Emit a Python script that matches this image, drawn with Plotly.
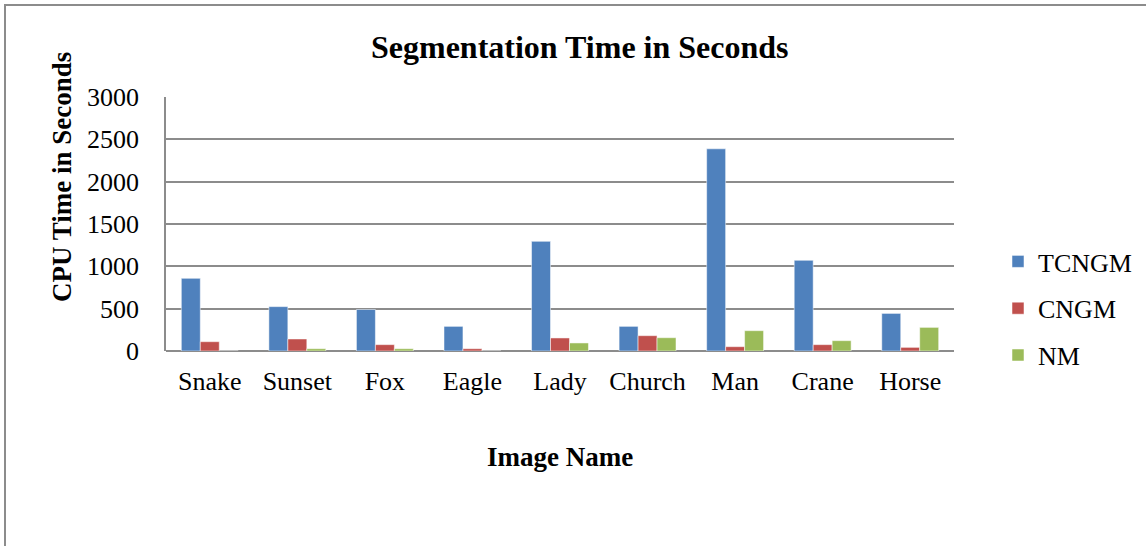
import plotly.graph_objects as go

# Segmentation time per image for each method (seconds)
images = ["Snake", "Sunset", "Fox", "Eagle", "Lady", "Church", "Man", "Crane", "Horse"]
tcngm = [858, 524, 490, 291, 1295, 291, 2388, 1071, 444]
cngm = [110, 142, 75, 27, 154, 181, 51, 75, 43]
nm = [0, 27, 27, 0, 95, 157, 240, 122, 279]

series = [("TCNGM", tcngm, "#4F81BD"), ("CNGM", cngm, "#C0504D"), ("NM", nm, "#9BBB59")]

FONT = "Liberation Serif, Times New Roman, serif"
W, H = 1146, 546
L, R, T, B = 166, 192, 97, 195
PW, PH = W - L - R, H - T - B


def px_x(x):
    return (x - L) / PW


def px_y(y):
    return (H - B - y) / PH


fig = go.Figure()
for name, vals, color in series:
    fig.add_trace(go.Bar(
        x=images, y=vals, name=name, legendgroup=name,
        marker=dict(color=color, line=dict(color="rgba(255,255,255,0.5)", width=1)),
    ))

fig.update_layout(
    width=W, height=H,
    margin=dict(l=L, r=R, t=T, b=B),
    paper_bgcolor="white", plot_bgcolor="white",
    barmode="group", bargap=0.35, bargroupgap=0,
    font=dict(family=FONT, size=26, color="black"),
    showlegend=True,
    legend=dict(x=998 / W, xref="container", xanchor="left",
                y=(H - 238) / H, yref="container", yanchor="top",
                traceorder="grouped", tracegroupgap=10,
                font=dict(family=FONT, size=26, color="black"),
                bgcolor="rgba(0,0,0,0)", itemclick=False),
    xaxis=dict(showgrid=False, showline=False, ticks="", tickfont=dict(size=26),
               ticklabelstandoff=12),
    yaxis=dict(range=[0, 3000], dtick=500, showgrid=True, gridcolor="#8c8c8c",
               gridwidth=1.5, showline=True, linecolor="#8c8c8c", linewidth=1.5,
               zeroline=True, zerolinecolor="#8c8c8c", zerolinewidth=1.5,
               ticks="", tickfont=dict(size=26), ticklabelstandoff=20),
    annotations=[
        dict(text="<b>Segmentation Time in Seconds</b>", x=px_x(580), y=px_y(47),
             xref="paper", yref="paper", xanchor="center", yanchor="middle",
             showarrow=False, font=dict(size=32, family=FONT)),
        dict(text="<b>CPU Time in Seconds</b>", x=px_x(62), y=px_y(177),
             xref="paper", yref="paper", xanchor="center", yanchor="middle",
             showarrow=False, textangle=-90, font=dict(size=27, family=FONT)),
        dict(text="<b>Image Name</b>", x=px_x(560), y=px_y(457),
             xref="paper", yref="paper", xanchor="center", yanchor="middle",
             showarrow=False, font=dict(size=27, family=FONT)),
    ],
)

# Outer chart frame
fig.add_shape(type="rect", xref="paper", yref="paper",
              x0=px_x(5), x1=px_x(1160), y0=px_y(560), y1=px_y(5),
              line=dict(color="#8c8c8c", width=2), layer="below")

fig.write_html("out.html")
